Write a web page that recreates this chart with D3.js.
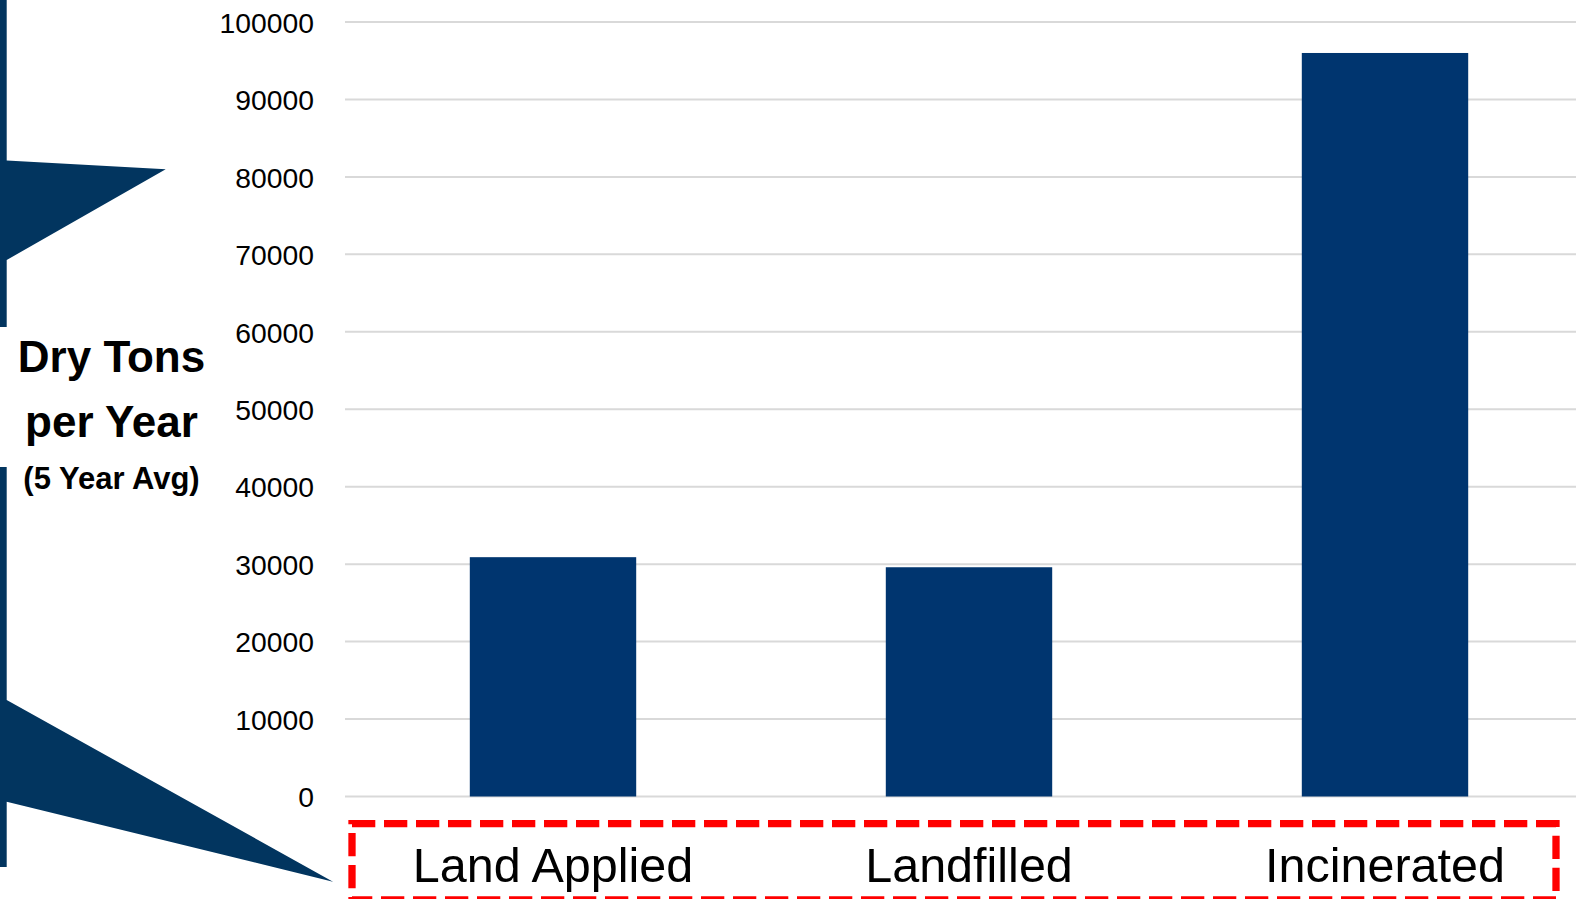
<!DOCTYPE html>
<html>
<head>
<meta charset="utf-8">
<script src="https://cdn.jsdelivr.net/npm/d3@7"></script>
<style>
  html, body { margin: 0; padding: 0; background: #fff; overflow: hidden; }
  svg { display: block; }
</style>
</head>
<body>
<svg id="chart" width="1576" height="899"></svg>
<script>
const categories = ["Land Applied", "Landfilled", "Incinerated"];
const values = [30900, 29600, 96000];
const yTicks = [0, 10000, 20000, 30000, 40000, 50000, 60000, 70000, 80000, 90000, 100000];
const yTitleLines = ["Dry Tons", "per Year"];
const ySubtitle = "(5 Year Avg)";

const svg = d3.select("#chart");
const W = 1576, H = 899;

const x = d3.scaleBand().domain(categories).range([345, 1593]).paddingInner(0.6).paddingOuter(0.3);
const y = d3.scaleLinear().domain([0, 100000]).range([796.5, 22]);

// Callout decoration on the left
const calloutColor = "#02355f";
svg.append("polygon")
  .attr("points", [[-10,-10],[6.7,-10],[6.7,160.5],[165.7,169.3],[6.7,260],[6.7,327],[-10,327]].map(p=>p.join(",")).join(" "))
  .attr("fill", calloutColor);
svg.append("polygon")
  .attr("points", [[-10,467],[6.7,467],[6.7,700],[333,881.7],[6.7,801.7],[6.7,867],[-10,867]].map(p=>p.join(",")).join(" "))
  .attr("fill", calloutColor);

// Gridlines
svg.append("g").selectAll("line").data(yTicks).join("line")
  .attr("x1", 345).attr("x2", W)
  .attr("y1", d => y(d)).attr("y2", d => y(d))
  .attr("stroke", "#d9d9d9").attr("stroke-width", 2);

// Y axis labels
const yAxis = d3.axisLeft(y).tickValues(yTicks).tickSize(0).tickPadding(0).tickFormat(d3.format("d"));
const yg = svg.append("g").attr("transform", "translate(314,0)").call(yAxis);
yg.select(".domain").remove();
yg.selectAll("text")
  .attr("font-family", "Liberation Sans, Arial, sans-serif")
  .attr("font-size", 28.3)
  .attr("fill", "#000")
  .attr("dy", "0.36em");

// Bars
svg.append("g").selectAll("rect").data(categories).join("rect")
  .attr("x", d => x(d))
  .attr("width", x.bandwidth())
  .attr("y", (d, i) => y(values[i]))
  .attr("height", (d, i) => y(0) - y(values[i]))
  .attr("fill", "#00356f");

// Red dashed box around category labels
svg.append("rect")
  .attr("x", 352).attr("y", 823.7)
  .attr("width", 1556 - 352).attr("height", 900 - 823.7)
  .attr("fill", "none")
  .attr("stroke", "#ff0000")
  .attr("stroke-width", 7.3)
  .attr("stroke-dasharray", "23.3,8.7");

// X axis labels
const xAxis = d3.axisBottom(x).tickSize(0).tickPadding(0);
const xg = svg.append("g").call(xAxis);
xg.select(".domain").remove();
xg.selectAll("text")
  .attr("font-family", "Liberation Sans, Arial, sans-serif")
  .attr("font-size", 48.5)
  .attr("fill", "#000")
  .attr("y", 881.7)
  .attr("dy", 0);

// Y title
const tg = svg.append("g").attr("font-family", "Liberation Sans, Arial, sans-serif")
  .attr("font-weight", "bold").attr("fill", "#000").attr("text-anchor", "middle");
tg.append("text").attr("x", 111.5).attr("y", 371.7).attr("font-size", 44).text(yTitleLines[0]);
tg.append("text").attr("x", 111.5).attr("y", 436.7).attr("font-size", 44).text(yTitleLines[1]);
tg.append("text").attr("x", 111.5).attr("y", 489.3).attr("font-size", 31).text(ySubtitle);
</script>
</body>
</html>
